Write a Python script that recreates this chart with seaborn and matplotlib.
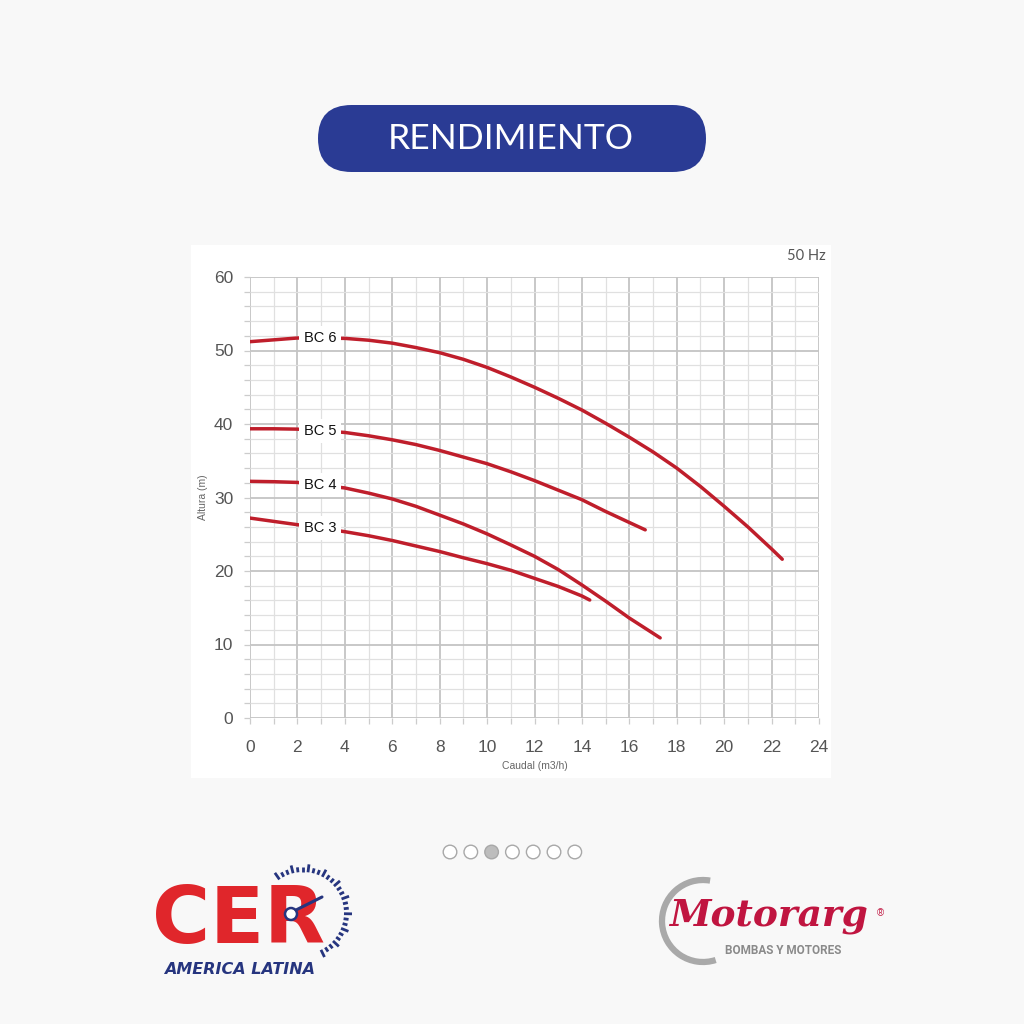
import numpy as np
import pandas as pd
import matplotlib
matplotlib.use("Agg")
import matplotlib.pyplot as plt
from matplotlib.patches import FancyBboxPatch, Rectangle, Circle, Arc
from matplotlib.ticker import MultipleLocator
import seaborn as sns

# Pump curves: flow (m3/h) vs head (m)
flow_bc6 = [0, 1, 2, 4, 5, 6, 7, 8, 9, 10, 11, 12, 13, 14, 15, 16, 17, 18, 19, 20, 21, 22, 22.45]
head_bc6 = [51.2, 51.45, 51.7, 51.65, 51.4, 51.0, 50.4, 49.7, 48.8, 47.7, 46.4, 45.0, 43.5,
            41.9, 40.1, 38.2, 36.2, 34.0, 31.5, 28.8, 26.0, 23.0, 21.6]
flow_bc5 = [0, 1, 2, 4, 5, 6, 7, 8, 9, 10, 11, 12, 13, 14, 15, 16, 16.67]
head_bc5 = [39.35, 39.35, 39.3, 38.85, 38.4, 37.85, 37.2, 36.4, 35.5, 34.6, 33.5, 32.3,
            31.0, 29.7, 28.1, 26.6, 25.6]
flow_bc4 = [0, 1, 2, 4, 5, 6, 7, 8, 9, 10, 11, 12, 13, 14, 15, 16, 17.3]
head_bc4 = [32.2, 32.15, 32.05, 31.3, 30.6, 29.8, 28.8, 27.6, 26.4, 25.05, 23.55, 22.0,
            20.2, 18.1, 15.9, 13.6, 10.9]
flow_bc3 = [0, 1, 2, 4, 5, 6, 7, 8, 9, 10, 11, 12, 13, 14, 14.33]
head_bc3 = [27.2, 26.75, 26.3, 25.35, 24.8, 24.15, 23.4, 22.65, 21.8, 21.0, 20.1, 19.0,
            17.9, 16.6, 16.05]

models = ["BC 6", "BC 5", "BC 4", "BC 3"]
x_ticks = [0, 2, 4, 6, 8, 10, 12, 14, 16, 18, 20, 22, 24]
y_ticks = [0, 10, 20, 30, 40, 50, 60]

curves = {
    "BC 6": (flow_bc6, head_bc6),
    "BC 5": (flow_bc5, head_bc5),
    "BC 4": (flow_bc4, head_bc4),
    "BC 3": (flow_bc3, head_bc3),
}
df = pd.concat(
    [pd.DataFrame({"Caudal": f, "Altura": h, "Modelo": m}) for m, (f, h) in curves.items()],
    ignore_index=True,
)

sns.set_style("white")
plt.rcParams["font.family"] = ["Liberation Sans", "DejaVu Sans"]

W = H = 1024
fig = plt.figure(figsize=(10.24, 10.24), dpi=100, facecolor="#f8f8f8")

# Page overlay in pixel coordinates (y downwards)
page = fig.add_axes([0, 0, 1, 1], zorder=0)
page.set_xlim(0, W)
page.set_ylim(H, 0)
page.set_aspect("equal")
page.axis("off")
page.patch.set_alpha(0)

# Header pill
page.add_patch(FancyBboxPatch((318, 105), 388, 67,
                              boxstyle="round,pad=0,rounding_size=33.5",
                              facecolor="#2a3b94", edgecolor="none"))
page.text(511, 139, "RENDIMIENTO", color="white", fontsize=25.5,
          family=["Lato", "DejaVu Sans"], ha="center", va="center")

# White chart panel
page.add_patch(Rectangle((191, 245), 640, 533, facecolor="white", edgecolor="none"))
page.text(826, 256, "50 Hz", color="#555555", fontsize=10.5,
          family=["Lato", "DejaVu Sans"], ha="right", va="center")

# Carousel dots
for i in range(7):
    cx = 450 + 20.8 * i
    page.add_patch(Circle((cx, 852), 6.8,
                          facecolor="#bdbdbd" if i == 2 else "white",
                          edgecolor="#a8a8a8", linewidth=1.0))

# CER logo
cer_red = "#e0262b"
cer_blue = "#26357f"
page.text(238, 921, "CER", color=cer_red, fontsize=57, fontweight="heavy",
          family=["DejaVu Sans"], ha="center", va="center")
page.text(240, 969, "AMERICA LATINA", color=cer_blue, fontsize=11.5,
          fontweight="bold", style="italic", family=["DejaVu Sans"],
          ha="center", va="center")
gc = (303, 913)
for k, ang in enumerate(np.arange(125, -68, -7)):
    a = np.deg2rad(ang)
    r0 = 41
    r1 = 49 if k % 3 == 0 else 46
    page.plot([gc[0] + r0 * np.cos(a), gc[0] + r1 * np.cos(a)],
              [gc[1] - r0 * np.sin(a), gc[1] - r1 * np.sin(a)],
              color=cer_blue, lw=2.0, solid_capstyle="butt")
page.add_patch(Circle((291, 914), 6, facecolor="white", edgecolor=cer_blue, lw=1.8, zorder=5))
page.plot([296, 322], [910, 897], color=cer_blue, lw=2.2, zorder=5)

# Motorarg logo
page.add_patch(Arc((703, 921), 82, 82, theta1=72, theta2=280,
                   color="#a9a9a9", lw=4.5))
page.text(768, 916, "Motorarg", color="#c01540", fontsize=27,
          fontweight="bold", style="italic", family=["DejaVu Serif"],
          ha="center", va="center")
page.text(880, 913, "®", color="#c01540", fontsize=7, ha="center", va="center")
page.text(783, 951, "BOMBAS Y MOTORES", color="#8a8a8a", fontsize=8.5,
          fontweight="bold", family=["Roboto", "DejaVu Sans"],
          ha="center", va="center")

# Chart axes
left, right, top, bottom = 250, 819, 277, 718
ax = fig.add_axes([left / W, 1 - bottom / H, (right - left) / W, (bottom - top) / H],
                  zorder=1)
ax.set_facecolor("white")

red = "#bf1e2b"
sns.lineplot(data=df, x="Caudal", y="Altura", hue="Modelo",
             palette={m: red for m in models}, linewidth=2.5,
             legend=False, ax=ax, sort=False, zorder=3)

ax.set_xlim(0, 24)
ax.set_ylim(0, 60)
ax.set_xticks(x_ticks)
ax.set_yticks(y_ticks)
ax.xaxis.set_minor_locator(MultipleLocator(1))
ax.yaxis.set_minor_locator(MultipleLocator(2))
ax.grid(which="major", color="#c4c4c4", linewidth=1.3, zorder=0)
ax.grid(which="minor", color="#e0e0e0", linewidth=0.9, zorder=0)
ax.set_axisbelow(True)
for s in ax.spines.values():
    s.set_visible(False)
ax.tick_params(which="both", direction="out", length=4, color="#cccccc",
               width=0.9, labelsize=12.5, labelcolor="#555555", pad=12,
               bottom=True, left=True)
ax.tick_params(axis="y", pad=8)

ax.set_xlabel("Caudal (m3/h)", fontsize=7.5, color="#666666", labelpad=4)
ax.set_ylabel("Altura (m)", fontsize=7.5, color="#666666", labelpad=4)

# Model labels sitting on each curve
for m, (f, h) in curves.items():
    y = np.interp(2.95, f, h)
    ax.text(2.95, y, m, fontsize=10.5, color="#111111", ha="center", va="center",
            zorder=4,
            bbox=dict(boxstyle="square,pad=0.35", facecolor="white", edgecolor="none"))

fig.savefig("out.png", dpi=100, facecolor=fig.get_facecolor())
